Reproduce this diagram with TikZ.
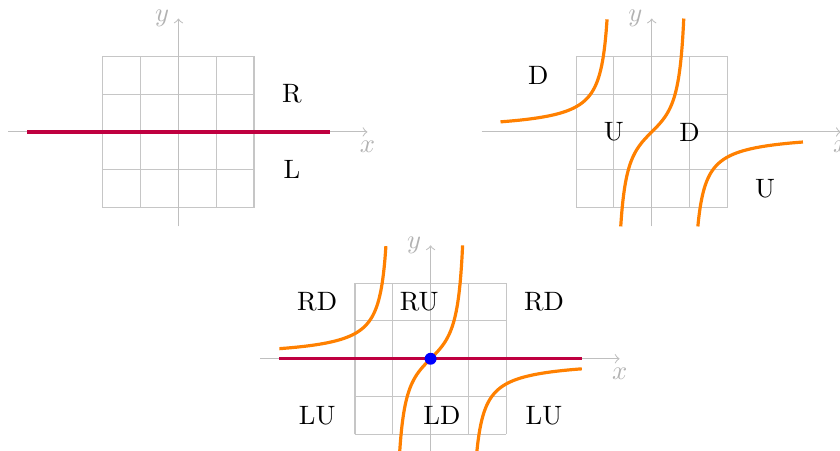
\documentclass[tikz,border=0pt]{standalone}
\usepackage{tikz}
\usetikzlibrary{positioning, calc}
\tikzset{
	gridlines/.style={
			gray!45,
			thin,
			step=1
		},
	axisline/.style={
			gray!50,
			thin,
			->
		},
	axislabel/.style={
			text=gray!60,
			inner sep=3.33pt
		},
	redline/.style={
			purple,
			very thick
		},
	orangecurve/.style={
			orange,
			very thick,
			samples=120,
			smooth,
			variable=\x
		},
	regionlabel/.style={
			text=black,
			inner sep=1pt
		},
	pointnode/.style={
			circle,
			fill=blue,
			inner sep=0pt,
			minimum size=4.5pt
		}
}

\begin{document}
\begin{tikzpicture}[x=0.5cm, y=0.5cm]
\useasboundingbox (-4.72,-8.42) rectangle (17.5,3.49);

% first panel: the line
\begin{scope}
\draw[gridlines] (-2,-2) grid (2,2);
\coordinate (xa) at (-4.5,0);
\coordinate (xb) at (5,0);
\coordinate (ya) at (0,-2.5);
\coordinate (yb) at (0,3);
\draw[axisline] (xa) -- (xb) node[axislabel, below] (xl) {$x$};
\draw[axisline] (ya) -- (yb) node[axislabel, left] (yl) {$y$};

\coordinate (la) at (-4,0);
\coordinate (lb) at (4,0);
\draw[redline] (la) -- (lb);

\node[regionlabel] (r1) at (3,1) {R};
\node[regionlabel] (l1) at (3,-1) {L};
\end{scope}

% second panel: the curve
\begin{scope}[xshift=6.26cm]
\draw[gridlines] (-2,-2) grid (2,2);
\coordinate (xa) at (-4.5,0);
\coordinate (xb) at (5,0);
\coordinate (ya) at (0,-2.5);
\coordinate (yb) at (0,3);
\draw[axisline] (xa) -- (xb) node[axislabel, below] (xl) {$x$};
\draw[axisline] (ya) -- (yb) node[axislabel, left] (yl) {$y$};

\draw[orangecurve, domain=-4:-1.1805] plot (\x, {\x/(1-\x*\x)});
\draw[orangecurve, domain=-0.8198:0.8471] plot (\x, {\x/(1-\x*\x)});
\draw[orangecurve, domain=1.2198:4] plot (\x, {\x/(1-\x*\x)});

\node[regionlabel] (d1) at (-3,1.5) {D};
\node[regionlabel] (u1) at (-1,0) {U};
\node[regionlabel] (d2) at (1,0) {D};
\node[regionlabel] (u2) at (3,-1.5) {U};
\end{scope}

% third panel: both together
\begin{scope}[xshift=3.335cm, yshift=-3cm]
\draw[gridlines] (-2,-2) grid (2,2);
\coordinate (xa) at (-4.5,0);
\coordinate (xb) at (5,0);
\coordinate (ya) at (0,-2.5);
\coordinate (yb) at (0,3);
\draw[axisline] (xa) -- (xb) node[axislabel, below] (xl) {$x$};
\draw[axisline] (ya) -- (yb) node[axislabel, left] (yl) {$y$};

\draw[orangecurve, domain=-4:-1.1805] plot (\x, {\x/(1-\x*\x)});
\draw[orangecurve, domain=-0.8198:0.8471] plot (\x, {\x/(1-\x*\x)});
\draw[orangecurve, domain=1.2198:4] plot (\x, {\x/(1-\x*\x)});

\coordinate (la) at (-4,0);
\coordinate (lb) at (4,0);
\draw[redline] (la) -- (lb);

\node[pointnode] (p0) at (0,0) {};

\node[regionlabel] (rd1) at (-3,1.5) {RD};
\node[regionlabel] (ru1) at (-0.3,1.5) {RU};
\node[regionlabel] (rd2) at (3,1.5) {RD};
\node[regionlabel] (lu1) at (-3,-1.5) {LU};
\node[regionlabel] (ld1) at (0.3,-1.5) {LD};
\node[regionlabel] (lu2) at (3,-1.5) {LU};
\end{scope}

\end{tikzpicture}
\end{document}
